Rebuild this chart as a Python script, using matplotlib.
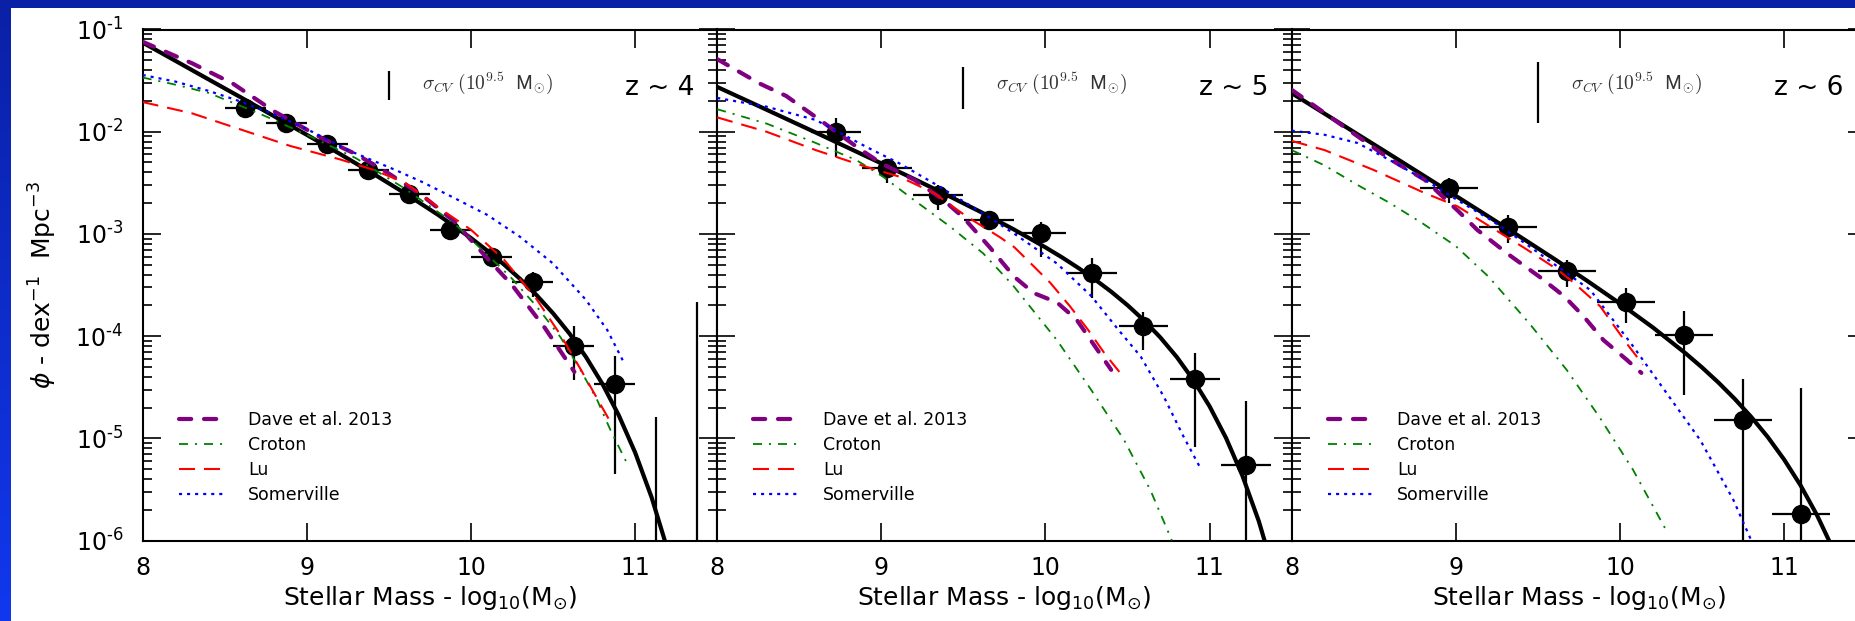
import numpy as np
import matplotlib
matplotlib.use("Agg")
import matplotlib.pyplot as plt
from matplotlib.patches import Rectangle
from matplotlib.ticker import LogLocator, NullLocator, NullFormatter, FixedLocator, FuncFormatter

plt.rcParams["font.family"] = ["DejaVu Sans"]
plt.rcParams["lines.scale_dashes"] = False

# ---------------------------------------------------------------- data
redshift_labels = ["z ~ 4", "z ~ 5", "z ~ 6"]
model_names = ["Dave et al. 2013", "Croton", "Lu", "Somerville"]

# observed stellar mass function: log10 M, log10 phi, upper/lower 1-sigma bounds (log10 phi)
z4_logm = [8.625, 8.875, 9.125, 9.375, 9.625, 9.875, 10.125, 10.375, 10.625, 10.875]
z4_logphi = [-1.770, -1.912, -2.116, -2.378, -2.609, -2.963, -3.222, -3.472, -4.096, -4.466]
z4_hi = [-1.735, -1.880, -2.082, -2.343, -2.572, -2.920, -3.170, -3.370, -3.900, -4.195]
z4_lo = [-1.805, -1.945, -2.150, -2.413, -2.646, -3.006, -3.275, -3.615, -4.430, -5.350]
z4_halfbin = 0.125
# bins with no detections: only the upper bound is shown
z4_empty_logm = [11.125, 11.375]
z4_empty_hi = [-4.79, -3.67]

z5_logm = [8.723, 9.035, 9.347, 9.658, 9.971, 10.285, 10.597, 10.911, 11.222]
z5_logphi = [-2.002, -2.360, -2.623, -2.866, -2.990, -3.385, -3.903, -4.417, -5.265]
z5_hi = [-1.869, -2.280, -2.522, -2.790, -2.880, -3.239, -3.761, -4.162, -4.632]
z5_lo = [-2.245, -2.505, -2.766, -2.960, -3.229, -3.630, -4.136, -5.082, -9.000]
z5_halfbin = 0.152

z6_logm = [8.960, 9.320, 9.675, 10.035, 10.390, 10.748, 11.105]
z6_logphi = [-2.555, -2.930, -3.366, -3.665, -3.990, -4.823, -5.737]
z6_hi = [-2.456, -2.815, -3.255, -3.526, -3.755, -4.423, -4.505]
z6_lo = [-2.700, -3.086, -3.523, -3.869, -4.576, -9.000, -9.000]
z6_halfbin = 0.176

# best-fitting Schechter functions (log10 phi along log10 M)
z4_fit_logm = [8.0, 8.2, 8.4, 8.6, 8.8, 9.0, 9.2, 9.4, 9.6, 9.8, 10.0,
               10.1, 10.2, 10.3, 10.4, 10.5, 10.6, 10.7, 10.8, 10.9, 11.0, 11.1, 11.2]
z4_fit_logphi = [-1.128, -1.307, -1.487, -1.666, -1.848, -2.031, -2.216, -2.407, -2.605, -2.814, -3.041,
                 -3.165, -3.298, -3.442, -3.600, -3.777, -3.975, -4.203, -4.466, -4.774, -5.139, -5.576, -6.102]
z5_fit_logm = [8.0, 8.2, 8.4, 8.6, 8.8, 9.0, 9.2, 9.4, 9.6, 9.8, 10.0,
               10.1, 10.2, 10.3, 10.4, 10.5, 10.6, 10.7, 10.8, 10.9, 11.0, 11.1, 11.2, 11.3, 11.4]
z5_fit_logphi = [-1.562, -1.710, -1.859, -2.008, -2.159, -2.310, -2.463, -2.620, -2.781, -2.950, -3.132,
                 -3.229, -3.333, -3.444, -3.565, -3.698, -3.846, -4.014, -4.205, -4.428, -4.688, -4.997,
                 -5.367, -5.813, -6.356]
z6_fit_logm = [8.0, 8.2, 8.4, 8.6, 8.8, 9.0, 9.2, 9.4, 9.6, 9.8, 10.0,
               10.2, 10.4, 10.5, 10.6, 10.7, 10.8, 10.9, 11.0, 11.1, 11.2, 11.3]
z6_fit_logphi = [-1.623, -1.823, -2.024, -2.224, -2.426, -2.628, -2.831, -3.037, -3.245, -3.459, -3.681,
                 -3.915, -4.169, -4.307, -4.455, -4.616, -4.792, -4.987, -5.208, -5.460, -5.751, -6.091]

# model predictions (log10 M, log10 phi)
z4_dave_logm = [8.0, 8.3, 8.55, 8.8, 9.1, 9.3, 9.5, 9.7, 9.9, 10.1, 10.25, 10.45, 10.63]
z4_dave_logphi = [-1.12, -1.33, -1.53, -1.80, -2.07, -2.22, -2.41, -2.62, -2.88, -3.24, -3.50, -3.92, -4.35]
z4_croton_logm = [8.0, 8.2, 8.4, 8.6, 8.75, 9.0, 9.3, 9.6, 9.9, 10.24, 10.4, 10.545, 10.667, 10.77, 10.85, 10.946]
z4_croton_logphi = [-1.47, -1.54, -1.62, -1.75, -1.85, -2.03, -2.26, -2.56, -2.90, -3.42, -3.71, -4.01, -4.33, -4.63,
                    -4.92, -5.23]
z4_lu_logm = [8.0, 8.3, 8.6, 8.9, 9.2, 9.4, 9.6, 9.8, 10.0, 10.2, 10.4, 10.55, 10.67, 10.8, 10.86]
z4_lu_logphi = [-1.71, -1.82, -1.98, -2.14, -2.27, -2.37, -2.50, -2.74, -2.96, -3.25, -3.64, -4.00, -4.33, -4.70, -4.87]
z4_somerville_logm = [8.0, 8.2, 8.4, 8.57, 8.8, 8.97, 9.25, 9.54, 9.7, 9.9, 10.1, 10.3, 10.5, 10.7, 10.83, 10.935]
z4_somerville_logphi = [-1.445, -1.51, -1.60, -1.69, -1.83, -1.95, -2.18, -2.375, -2.49, -2.65, -2.815, -3.03,
                        -3.29, -3.645, -3.94, -4.27]

z5_dave_logm = [8.0, 8.26, 8.42, 8.66, 8.86, 9.0, 9.2, 9.38, 9.5, 9.66, 9.81, 9.93, 10.07, 10.19, 10.28, 10.40]
z5_dave_logphi = [-1.29, -1.53, -1.65, -1.925, -2.16, -2.31, -2.47, -2.67, -2.84, -3.13, -3.42, -3.58, -3.67,
                  -3.84, -4.05, -4.33]
z5_croton_logm = [8.0, 8.3, 8.6, 8.85, 9.01, 9.2, 9.42, 9.62, 9.8, 10.07, 10.28, 10.48, 10.64, 10.77]
z5_croton_logphi = [-1.78, -1.92, -2.11, -2.28, -2.44, -2.67, -2.93, -3.19, -3.50, -4.04, -4.53, -5.02, -5.51, -6.00]
z5_lu_logm = [8.0, 8.3, 8.6, 8.9, 9.11, 9.32, 9.52, 9.72, 9.81, 9.93, 10.03, 10.15, 10.26, 10.36, 10.45]
z5_lu_logphi = [-1.86, -2.00, -2.18, -2.34, -2.44, -2.60, -2.83, -3.03, -3.13, -3.32, -3.48, -3.71, -3.94, -4.17, -4.35]
z5_somerville_logm = [8.0, 8.3, 8.6, 8.91, 9.11, 9.32, 9.62, 9.83, 10.07, 10.28, 10.44, 10.58, 10.72, 10.84, 10.94]
z5_somerville_logphi = [-1.67, -1.755, -1.885, -2.15, -2.31, -2.505, -2.80, -3.02, -3.29, -3.61, -3.93, -4.20,
                        -4.59, -4.98, -5.28]

z6_dave_logm = [8.0, 8.3, 8.6, 8.81, 9.01, 9.13, 9.32, 9.51, 9.66, 9.78, 9.9, 10.04, 10.13]
z6_dave_logphi = [-1.59, -1.93, -2.27, -2.47, -2.77, -2.96, -3.20, -3.42, -3.61, -3.81, -4.04, -4.23, -4.36]
z6_croton_logm = [8.0, 8.2, 8.4, 8.6, 8.8, 9.0, 9.2, 9.45, 9.675, 9.878, 10.08, 10.285]
z6_croton_logphi = [-2.18, -2.33, -2.52, -2.70, -2.90, -3.12, -3.42, -3.88, -4.33, -4.80, -5.31, -5.91]
z6_lu_logm = [8.0, 8.2, 8.5, 8.81, 9.01, 9.21, 9.42, 9.62, 9.72, 9.88, 10.04, 10.14]
z6_lu_logphi = [-2.09, -2.18, -2.375, -2.60, -2.73, -2.93, -3.14, -3.35, -3.48, -3.71, -4.07, -4.28]
z6_somerville_logm = [8.0, 8.2, 8.4, 8.6, 8.81, 9.01, 9.21, 9.42, 9.62, 9.82, 10.08, 10.285, 10.49, 10.69, 10.80]
z6_somerville_logphi = [-1.99, -2.03, -2.11, -2.28, -2.47, -2.67, -2.86, -3.09, -3.32, -3.55, -4.10, -4.56,
                        -5.02, -5.60, -6.00]

# cosmic variance uncertainty at 10^9.5 Msun (log10 phi bounds)
cv_logm = 9.5
cv_hi = [-1.403, -1.364, -1.315]
cv_lo = [-1.690, -1.781, -1.918]

# ---------------------------------------------------------------- styles
model_styles = {
    "Dave et al. 2013": dict(color="#800080", lw=3.0, dashes=(8.8, 9.2), dash_capstyle="round"),
    "Croton": dict(color="#008000", lw=1.3, dashes=(6.5, 5.0, 1.5, 5.0)),
    "Lu": dict(color="#ff0000", lw=1.5, dashes=(11.5, 6.5)),
    "Somerville": dict(color="#0000ff", lw=1.6, dashes=(2.2, 3.6)),
}

panels = [
    dict(obs=(z4_logm, z4_logphi, z4_hi, z4_lo, z4_halfbin),
         empty=(z4_empty_logm, z4_empty_hi),
         fit=(z4_fit_logm, z4_fit_logphi),
         models=[(z4_dave_logm, z4_dave_logphi), (z4_croton_logm, z4_croton_logphi),
                 (z4_lu_logm, z4_lu_logphi), (z4_somerville_logm, z4_somerville_logphi)]),
    dict(obs=(z5_logm, z5_logphi, z5_hi, z5_lo, z5_halfbin),
         empty=None,
         fit=(z5_fit_logm, z5_fit_logphi),
         models=[(z5_dave_logm, z5_dave_logphi), (z5_croton_logm, z5_croton_logphi),
                 (z5_lu_logm, z5_lu_logphi), (z5_somerville_logm, z5_somerville_logphi)]),
    dict(obs=(z6_logm, z6_logphi, z6_hi, z6_lo, z6_halfbin),
         empty=None,
         fit=(z6_fit_logm, z6_fit_logphi),
         models=[(z6_dave_logm, z6_dave_logphi), (z6_croton_logm, z6_croton_logphi),
                 (z6_lu_logm, z6_lu_logphi), (z6_somerville_logm, z6_somerville_logphi)]),
]

FIG_W, FIG_H = 1856, 621
fig = plt.figure(figsize=(FIG_W / 100, FIG_H / 100), dpi=100)

# slide background: blue gradient with the white figure area on top
bg = fig.add_axes([0, 0, 1, 1], zorder=-10)
grad = np.linspace(0, 1, 256)[:, None]
top_col = np.array([10, 32, 166]) / 255.0
bot_col = np.array([17, 56, 238]) / 255.0
img = top_col[None, None, :] * (1 - grad[..., None]) + bot_col[None, None, :] * grad[..., None]
bg.imshow(img, aspect="auto", extent=[0, 1, 0, 1], origin="upper")
bg.add_patch(Rectangle((11 / FIG_W, 0), 1, (FIG_H - 8) / FIG_H, facecolor="white", edgecolor="none"))
bg.set_xlim(0, 1)
bg.set_ylim(0, 1)
bg.axis("off")

AX_LEFT, AX_W = 142.7, 574.5
AX_TOP, AX_BOT = 29.5, 540.5


def log_label(v, pos):
    k = int(round(np.log10(v)))
    return r"$\mathdefault{10^{%s%d}}$" % ("\u2010" if k < 0 else "", abs(k))


for i, p in enumerate(panels):
    rect = [(AX_LEFT + i * AX_W) / FIG_W, (FIG_H - AX_BOT) / FIG_H,
            AX_W / FIG_W, (AX_BOT - AX_TOP) / FIG_H]
    ax = fig.add_axes(rect)
    ax.set_yscale("log")
    ax.set_xlim(8, 11.5)
    ax.set_ylim(1e-6, 1e-1)

    m, lp, hi, lo, hb = p["obs"]
    m = np.asarray(m)
    phi = 10 ** np.asarray(lp)
    yerr = [phi - 10 ** np.asarray(lo), 10 ** np.asarray(hi) - phi]
    ax.errorbar(m, phi, xerr=hb, yerr=yerr, fmt="o", color="k", ms=13,
                elinewidth=1.6, capsize=0, zorder=3)
    if p["empty"] is not None:
        em, ehi = p["empty"]
        ax.vlines(em, 1e-9, 10 ** np.asarray(ehi), color="k", lw=1.6, zorder=3)

    fm, fl = p["fit"]
    ax.plot(fm, 10 ** np.asarray(fl), color="k", lw=3.0, zorder=4)

    handles = []
    for name, (mm, ll) in zip(model_names, p["models"]):
        ln, = ax.plot(mm, 10 ** np.asarray(ll), label=name, zorder=5, **model_styles[name])
        handles.append(ln)

    # cosmic variance bar and its label
    ax.vlines(cv_logm, 10 ** cv_lo[i], 10 ** cv_hi[i], color="k", lw=1.6)
    ax.text(9.70, 10 ** -1.53, r"$\sigma_{CV}\ (10^{9.5}\ \ \mathsf{M}_{\odot})$",
            fontsize=14, color="0.2", ha="left", va="center", math_fontfamily="cm")
    ax.text(11.36, 10 ** -1.57, redshift_labels[i], fontsize=19, ha="right", va="center")

    ax.legend(handles=handles, loc="lower left", bbox_to_anchor=(0.063, 0.071),
              frameon=False, fontsize=12.5, borderpad=0, borderaxespad=0,
              handlelength=2.6, handletextpad=1.4, labelspacing=0.41)

    # ticks
    ax.xaxis.set_major_locator(FixedLocator([8, 9, 10, 11]))
    ax.xaxis.set_minor_locator(NullLocator())
    ax.yaxis.set_major_locator(LogLocator(base=10, numticks=10))
    ax.yaxis.set_minor_locator(LogLocator(base=10, subs=np.arange(2, 10), numticks=20))
    ax.yaxis.set_minor_formatter(NullFormatter())
    ax.yaxis.set_major_formatter(FuncFormatter(log_label))
    ax.tick_params(which="both", direction="in", top=True, right=True, width=1.2)
    ax.tick_params(which="major", length=13)
    ax.tick_params(which="minor", length=6.5)
    ax.tick_params(axis="x", labelsize=17, pad=11)
    ax.tick_params(axis="y", labelsize=17, pad=14, labelleft=(i == 0))
    for s in ax.spines.values():
        s.set_linewidth(1.5)

    ax.set_xlabel(r"Stellar Mass - log$_{10}$(M$_{\odot}$)", fontsize=18)
    ax.xaxis.set_label_coords(0.5, -0.085)
    ax.xaxis.label.set_va("top")
    if i == 0:
        ax.set_ylabel(r"$\phi$ - dex$^{-1}$  Mpc$^{-3}$", fontsize=18)
        ax.yaxis.set_label_coords(-0.145, 0.5)

fig.savefig("out.png", dpi=100)
